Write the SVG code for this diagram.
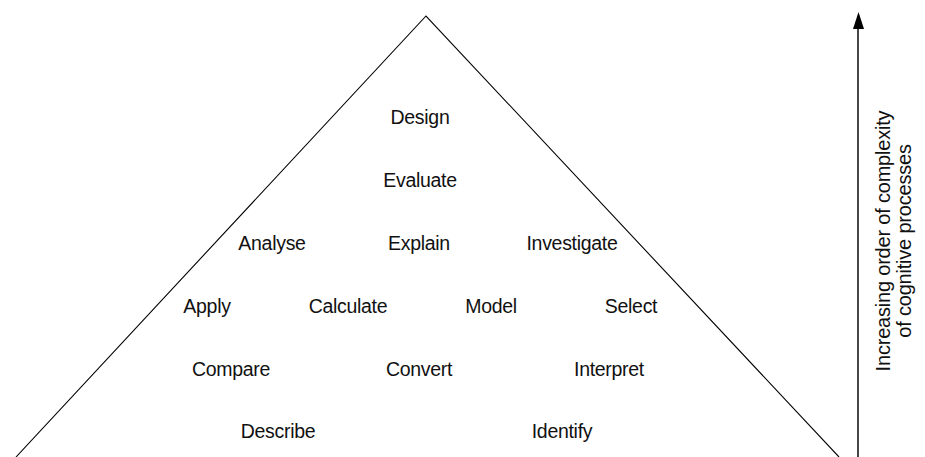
<svg xmlns="http://www.w3.org/2000/svg" width="925" height="457" viewBox="0 0 925 457">
  <style>
    .lbl { font-family: "Liberation Sans", Arial, Helvetica, sans-serif; font-size: 19.5px; letter-spacing: -0.3px; fill: #111; text-anchor: middle; }
    .side { font-family: "Liberation Sans", Arial, Helvetica, sans-serif; font-size: 20px; letter-spacing: -0.2px; fill: #111; text-anchor: middle; }
  </style>
  <rect width="925" height="457" fill="#fff"/>

  <!-- pyramid outline -->
  <g id="pyramid">
    <polyline points="16,457 426,16 839,457" fill="none" stroke="#000" stroke-width="1.1"/>
  </g>

  <!-- complexity axis -->
  <g id="connectors">
    <line x1="858" y1="457" x2="858" y2="28" stroke="#333" stroke-width="1.8"/>
    <path d="M853,29 L858.5,12 L864,29 Z" fill="#000"/>
  </g>

  <g id="axis-label">
    <text class="side" transform="translate(890,241) rotate(-90)">Increasing order of complexity</text>
    <text class="side" transform="translate(911,241) rotate(-90)">of cognitive processes</text>
  </g>

  <!-- process verbs, top to bottom -->
  <g id="design"><text class="lbl" x="420" y="124">Design</text></g>
  <g id="evaluate"><text class="lbl" x="420" y="187">Evaluate</text></g>

  <g id="analyse"><text class="lbl" x="272" y="250">Analyse</text></g>
  <g id="explain"><text class="lbl" x="419" y="250">Explain</text></g>
  <g id="investigate"><text class="lbl" x="572" y="250">Investigate</text></g>

  <g id="apply"><text class="lbl" x="207" y="313">Apply</text></g>
  <g id="calculate"><text class="lbl" x="348" y="313">Calculate</text></g>
  <g id="model"><text class="lbl" x="491" y="313">Model</text></g>
  <g id="select"><text class="lbl" x="631" y="313">Select</text></g>

  <g id="compare"><text class="lbl" x="231" y="376">Compare</text></g>
  <g id="convert"><text class="lbl" x="419" y="376">Convert</text></g>
  <g id="interpret"><text class="lbl" x="609" y="376">Interpret</text></g>

  <g id="describe"><text class="lbl" x="278" y="438">Describe</text></g>
  <g id="identify"><text class="lbl" x="562" y="438">Identify</text></g>
</svg>
